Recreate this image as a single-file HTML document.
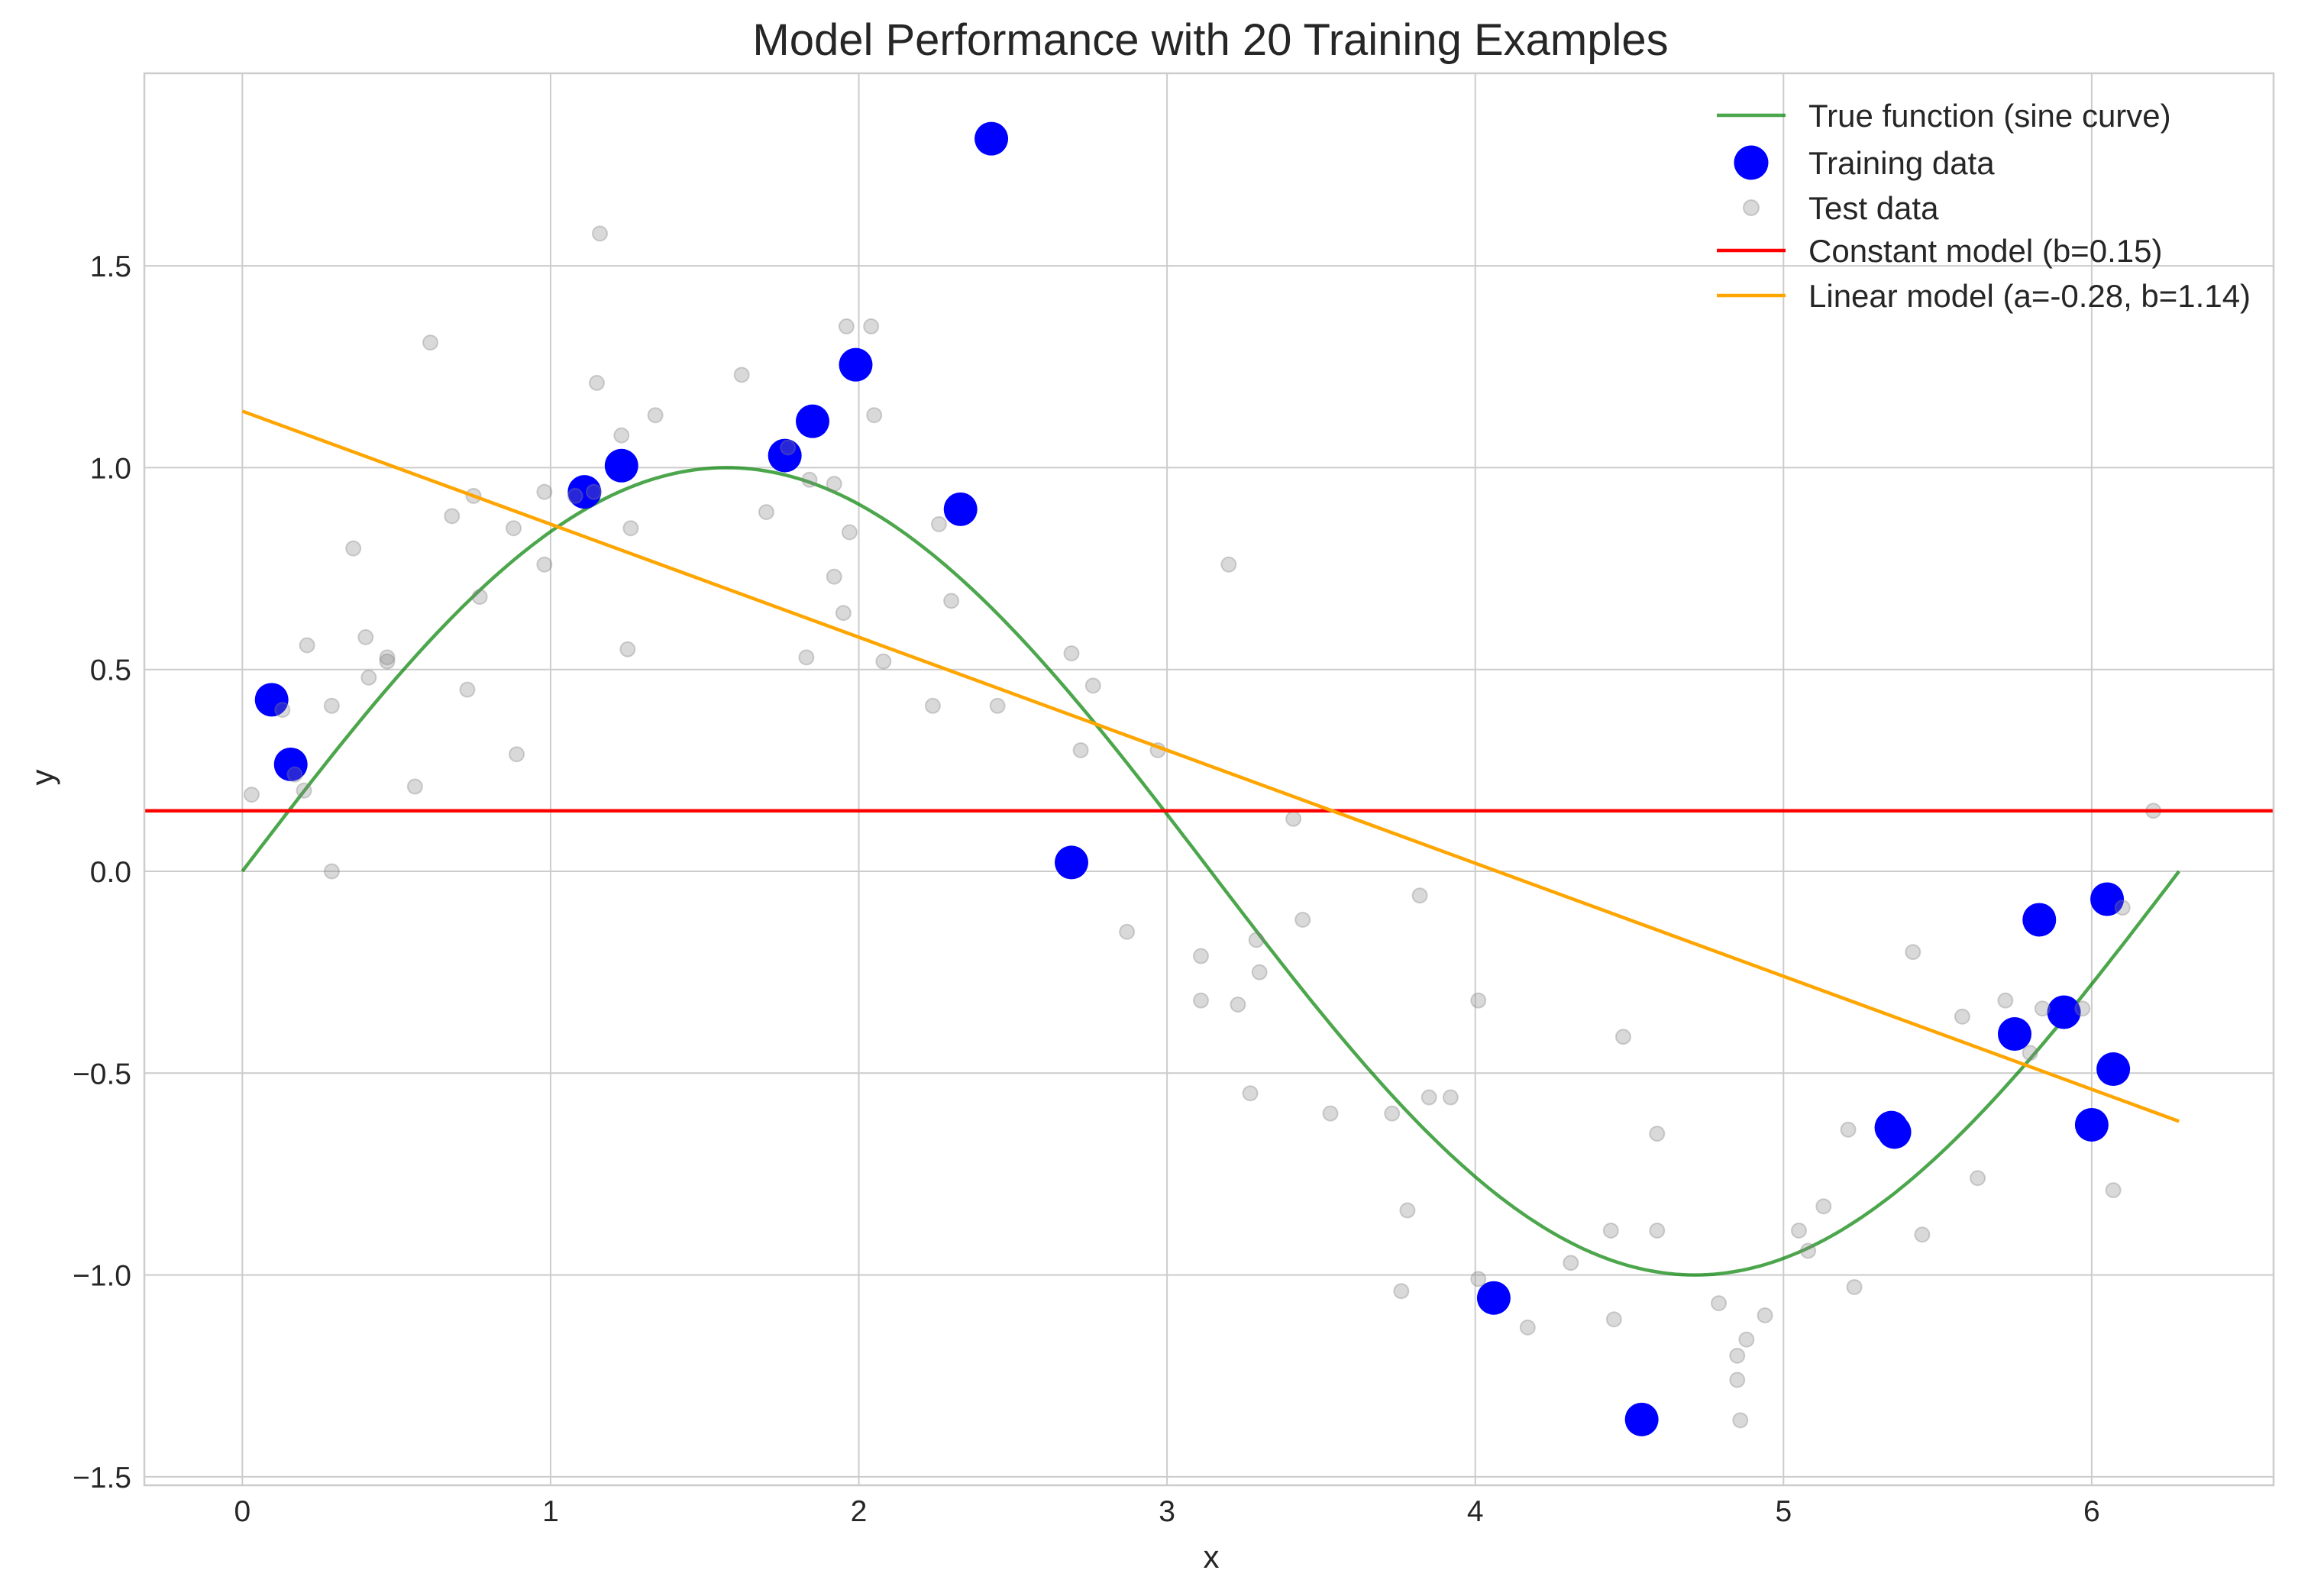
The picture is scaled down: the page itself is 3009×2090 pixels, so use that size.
<!DOCTYPE html>
<html><head><meta charset="utf-8"><style>
html,body{margin:0;padding:0;background:#fff}
svg{display:block;font-family:"Liberation Sans",sans-serif}
</style></head><body>
<svg id="chart" width="3009" height="2090" viewBox="0 0 3009 2090" xmlns="http://www.w3.org/2000/svg">
<rect width="3009" height="2090" fill="#fff"/>
<text x="1585" y="72" font-size="58" text-anchor="middle" fill="#262626">Model Performance with 20 Training Examples</text>
<text x="1586" y="2053" font-size="42" text-anchor="middle" fill="#262626">x</text>
<text x="70" y="1018" font-size="42" text-anchor="middle" fill="#262626" transform="rotate(-90 70 1018)">y</text>
<g id="grid"></g><g id="marks"></g><g id="ticks"></g>
<rect x="189" y="96" width="2788" height="1849" fill="none" stroke="#cccccc" stroke-width="2.5"/>
<g id="legend"></g>
</svg>
<script>
const trainX=[0.095,0.157,1.11,1.23,1.76,1.85,1.99,2.33,2.43,2.69,4.06,4.54,5.35,5.36,5.75,5.83,5.91,6.0,6.05,6.07];
const trainY=[0.425,0.265,0.94,1.005,1.03,1.115,1.255,0.897,1.815,0.022,-1.057,-1.358,-0.635,-0.646,-0.403,-0.12,-0.349,-0.628,-0.069,-0.49];
const testX=[0.03,0.13,0.17,0.20,0.21,0.29,0.29,0.36,0.40,0.41,0.47,0.47,0.56,0.61,0.68,0.73,0.75,0.77,0.88,0.89,0.98,0.98,1.08,1.14,1.15,1.16,1.23,1.25,1.26,1.34,1.62,1.70,1.77,1.83,1.84,1.92,1.92,1.95,1.96,1.97,2.04,2.05,2.08,2.24,2.26,2.30,2.45,2.69,2.72,2.76,2.87,2.97,3.11,3.11,3.20,3.23,3.27,3.29,3.30,3.41,3.44,3.53,3.73,3.76,3.78,3.82,3.85,3.92,4.01,4.01,4.17,4.31,4.44,4.45,4.48,4.59,4.59,4.79,4.85,4.85,4.86,4.88,4.94,5.05,5.08,5.13,5.21,5.23,5.42,5.45,5.58,5.63,5.72,5.80,5.84,5.97,6.07,6.10,6.20];
const testY=[0.19,0.40,0.24,0.20,0.56,0.00,0.41,0.80,0.58,0.48,0.52,0.53,0.21,1.31,0.88,0.45,0.93,0.68,0.85,0.29,0.76,0.94,0.93,0.94,1.21,1.58,1.08,0.55,0.85,1.13,1.23,0.89,1.05,0.53,0.97,0.96,0.73,0.64,1.35,0.84,1.35,1.13,0.52,0.41,0.86,0.67,0.41,0.54,0.30,0.46,-0.15,0.30,-0.21,-0.32,0.76,-0.33,-0.55,-0.17,-0.25,0.13,-0.12,-0.60,-0.60,-1.04,-0.84,-0.06,-0.56,-0.56,-0.32,-1.01,-1.13,-0.97,-0.89,-1.11,-0.41,-0.65,-0.89,-1.07,-1.20,-1.26,-1.36,-1.16,-1.10,-0.89,-0.94,-0.83,-0.64,-1.03,-0.20,-0.90,-0.36,-0.76,-0.32,-0.45,-0.34,-0.34,-0.79,-0.09,0.15];
const constB=[0.15];
const linA=[-0.28], linB=[1.14];
const xTicks=[0,1,2,3,4,5,6];
const yTicks=[-1.5,-1.0,-0.5,0.0,0.5,1.0,1.5];
const yTickLabels=["\u22121.5","\u22121.0","\u22120.5","0.0","0.5","1.0","1.5"];
const legendLabels=["True function (sine curve)","Training data","Test data","Constant model (b=0.15)","Linear model (a=-0.28, b=1.14)"];

const NS="http://www.w3.org/2000/svg";
const X0=-0.318,X1=6.59,Y0=-1.521,Y1=1.977,L=189,R=2977,T=96,B=1945;
const sx=v=>L+(v-X0)/(X1-X0)*(R-L);
const sy=v=>B-(v-Y0)/(Y1-Y0)*(B-T);
function mk(tag,attrs,parent){const e=document.createElementNS(NS,tag);for(const k in attrs)e.setAttribute(k,attrs[k]);parent.appendChild(e);return e;}
const grid=document.getElementById('grid'),marks=document.getElementById('marks'),ticks=document.getElementById('ticks'),lg=document.getElementById('legend');
xTicks.forEach(t=>{
  const l=mk('line',{x1:sx(t),x2:sx(t),y1:T,y2:B,stroke:'#cccccc','stroke-width':2},grid);
  
  
  const tx=mk('text',{x:sx(t),y:B+47,'font-size':39,'text-anchor':'middle',fill:'#262626'},ticks);
  tx.textContent=t;
  
  
});
yTicks.forEach((t,i)=>{
  const l=mk('line',{x1:L,x2:R,y1:sy(t),y2:sy(t),stroke:'#cccccc','stroke-width':2},grid);
  
  
  const tx=mk('text',{x:172,y:sy(t)+14,'font-size':39,'text-anchor':'end',fill:'#262626'},ticks);
  tx.textContent=yTickLabels[i];
  
  
});
let d='';for(let i=0;i<=300;i++){const x=i/300*2*Math.PI;d+=(i?'L':'M')+sx(x).toFixed(1)+','+sy(Math.sin(x)).toFixed(1);}
const sine=mk('path',{d:d,fill:'none',stroke:'rgba(0,128,0,0.7)','stroke-width':4.5},marks);


trainX.forEach((x,i)=>{
  const c=mk('circle',{cx:sx(x),cy:sy(trainY[i]),r:22,fill:'#0000ff'},marks);
  
  
});
testX.forEach((x,i)=>{
  const c=mk('circle',{cx:sx(x),cy:sy(testY[i]),r:9.5,fill:'rgba(128,128,128,0.3)',stroke:'rgba(128,128,128,0.35)','stroke-width':2},marks);
  
  
});
const cl=mk('line',{x1:L,x2:R,y1:sy(constB[0]),y2:sy(constB[0]),stroke:'#ff0000','stroke-width':4.5},marks);


const xe=2*Math.PI;
const ll=mk('line',{x1:sx(0),y1:sy(linB[0]),x2:sx(xe),y2:sy(linB[0]+linA[0]*xe),stroke:'#ffa500','stroke-width':4.5},marks);


const ly=[151,213,272,328,387];
legendLabels.forEach((lab,i)=>{
  const y=ly[i];
  if(i===1){const c=mk('circle',{cx:2293,cy:y,r:22.5,fill:'#0000ff'},lg);}
  else if(i===2){const c=mk('circle',{cx:2293,cy:y,r:10,fill:'rgba(128,128,128,0.3)',stroke:'rgba(128,128,128,0.35)','stroke-width':2},lg);}
  else{const col=i===0?'rgba(0,128,0,0.7)':(i===3?'#ff0000':'#ffa500');const l=mk('line',{x1:2248,x2:2338,y1:y,y2:y,stroke:col,'stroke-width':4.5},lg);}
  const t=mk('text',{x:2368,y:y+15,'font-size':42,fill:'#262626'},lg);
  t.textContent=lab;
  
  
});
</script>
</body></html>
